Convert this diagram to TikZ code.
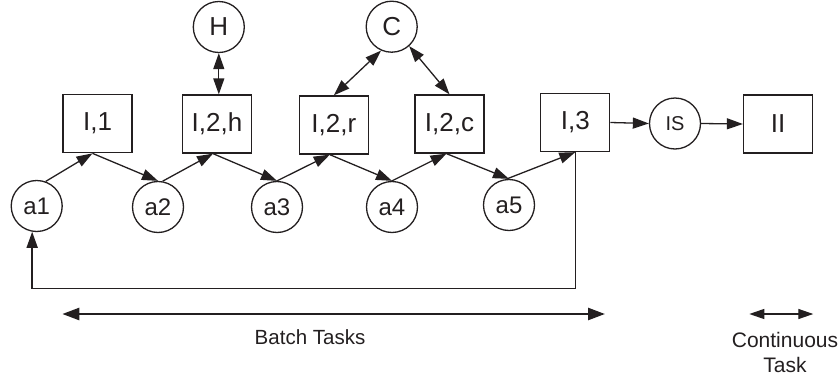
\documentclass[tikz,border=0pt]{standalone}
\usepackage{fontspec}
\setmainfont{Liberation Sans}
\usetikzlibrary{arrows.meta,calc}
\definecolor{ink}{RGB}{35,31,32}
\begin{document}
\begin{tikzpicture}[x=1pt,y=-1pt,
  every node/.style={text=ink},
  taskbox/.style={draw=ink, line width=1.3pt, minimum width=69pt, minimum height=58pt,
    inner sep=0pt, font=\fontsize{26}{30}\selectfont},
  cnode/.style={circle, draw=ink, line width=1.3pt, minimum size=51pt, inner sep=0pt,
    font=\fontsize{24}{28}\selectfont},
  link/.style={draw=ink, line width=1.3pt, -{Triangle[length=16pt,width=11pt]}},
  duplex/.style={draw=ink, line width=1.3pt,
    {Triangle[length=16pt,width=11pt]}-{Triangle[length=16pt,width=11pt]}},
  span/.style={draw=ink, line width=2.5pt,
    {Triangle[length=17pt,width=12pt]}-{Triangle[length=17pt,width=12pt]}},
  caption/.style={font=\fontsize{20.5}{25}\selectfont, align=center, inner sep=0pt}
]
\useasboundingbox (0,0) rectangle (839,378);

% batch stages (boxes)
\node[taskbox] (I1)  at (97.5,123.7) {I,1};
\node[taskbox] (I2h) at (217,124)    {I,2,h};
\node[taskbox] (I2r) at (333.8,125)  {I,2,r};
\node[taskbox] (I2c) at (449.5,124)  {I,2,c};
\node[taskbox] (I3)  at (575.3,122.5) {I,3};
\node[taskbox] (II)  at (778,124)    {II};

% states between stages
\node[cnode] (a1) at (36.7,206) {a1};
\node[cnode] (a2) at (158,207)  {a2};
\node[cnode] (a3) at (277,207)  {a3};
\node[cnode] (a4) at (392,207)  {a4};
\node[cnode] (a5) at (509,205)  {a5};

% shared resources and the continuous buffer
\node[cnode, font=\fontsize{26}{30}\selectfont] (H) at (218.8,27) {H};
\node[cnode, font=\fontsize{26}{30}\selectfont] (C) at (391.7,26.7) {C};
\node[cnode, font=\fontsize{20}{24}\selectfont] (IS) at (675,123.5) {IS};

% meeting points under each box
\coordinate (p1) at ([xshift=-5pt]I1.south);
\coordinate (p2) at ([xshift=-4pt]I2h.south);
\coordinate (p3) at ([xshift=-4pt]I2r.south);
\coordinate (p4) at ([xshift=-3pt]I2c.south);
\coordinate (p5) at (I3.south);

% zig-zag chain of the batch process
\draw[link] (a1.70) -- (p1);
\draw[link] (p1) -- (a2.north);
\draw[link] (a2.80) -- (p2);
\draw[link] (p2) -- (a3.north);
\draw[link] (a3.north) -- (p3);
\draw[link] (p3) -- (a4.north);
\draw[link] (a4.north) -- (p4);
\draw[link] (p4) -- (a5.north);
\draw[link] (a5.95) -- (p5);

% resource exchanges
\draw[duplex] (H.south) -- (H.south |- I2h.north);
\draw[duplex] (C.-114) -- (I2r.north);
\draw[duplex] (C.-48) -- (I2c.north);

% continuous section
\draw[link] (I3.east) -- (IS.west);
\draw[link] (IS.east) -- (II.west);

% recycle loop back to the first state
\coordinate (loop) at (0,288.3);
\draw[draw=ink, line width=1.5pt, -{Triangle[length=16pt,width=11pt]}]
  (I3.south) -- (I3.south |- loop) -| (a1.-100);

% legend
\coordinate (bl) at (62.3,314);
\coordinate (br) at (605,314);
\draw[span] (bl) -- (br);
\node[caption] (bt) at (310,337.5) {Batch Tasks};

\coordinate (cl) at (749.3,314);
\coordinate (cr) at (813.3,314);
\draw[draw=ink, line width=1.3pt,
  {Triangle[length=15pt,width=10pt]}-{Triangle[length=15pt,width=10pt]}] (cl) -- (cr);
\node[caption, font=\fontsize{21}{25}\selectfont] (ct) at (785,352) {Continuous\\Task};
\end{tikzpicture}
\end{document}
